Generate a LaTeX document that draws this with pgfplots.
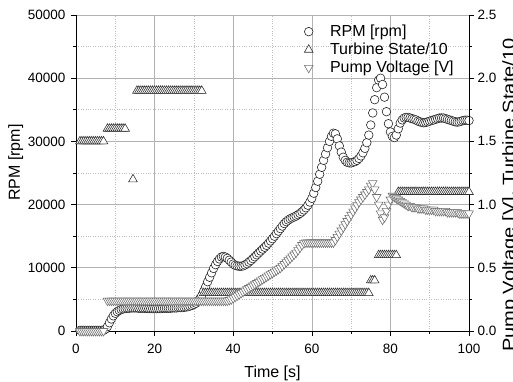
\documentclass[border=0pt]{standalone}
\usepackage{fontspec}
\setmainfont{Liberation Sans}
\usepackage{pgfplots}
\pgfplotsset{compat=1.18}
\begin{document}
\begin{tikzpicture}
\pgfplotsset{
  common/.style={
    at={(0,0)}, anchor=south west, scale only axis,
    width=393pt, height=316pt,
    xmin=0, xmax=100,
    tick align=outside,
    major tick length=5pt, minor tick length=3pt,
    tick style={black, line width=0.6pt},
    axis line style={black, line width=0.8pt},
    /pgf/number format/assume math mode=true,
    ticklabel style={font=\fontsize{13.5}{15}\selectfont},
    label style={font=\fontsize{16}{18}\selectfont},
  },
}
\begin{axis}[common,
  ymin=0, ymax=50000,
  axis x line*=bottom, axis y line*=left,
  xtick={0,20,40,60,80,100},
  ytick={0,10000,20000,30000,40000,50000},
  minor x tick num=1, minor y tick num=1,
  grid=both,
  major grid style={black!30, line width=0.6pt},
  minor grid style={black!25, dotted, line width=0.6pt},
  scaled y ticks=false,
  yticklabel style={/pgf/number format/1000 sep={}, xshift=-2pt},
  xticklabel style={yshift=-5pt},
  xlabel={Time [s]}, ylabel={RPM [rpm]},
  xlabel style={at={(axis description cs:0.5,0)}, anchor=north, inner sep=0pt, yshift=-35pt},
  ylabel style={at={(axis description cs:-0.173,0.533)}, anchor=north, inner sep=0pt},
]
\addplot[only marks, mark=*, mark size=4.3pt, line width=0.6pt,
  mark options={draw=black!85, fill=white}] coordinates {
(1,100)(1.5,100)(2,100)(2.5,100)(3,100)(3.5,100)(4,100)(4.5,100)(5,100)(5.5,100)(6,100)(6.5,100)(7,100)
(7.5,300)(8,700)(8.5,1300)(9,1900)(9.5,2400)(10,2800)(10.5,3050)(11,3250)(11.5,3400)(12,3500)(12.5,3550)
(13,3600)(13.5,3600)(14,3650)(14.5,3650)(15,3650)(15.5,3650)(16,3600)(16.5,3600)(17,3600)(17.5,3600)
(18,3600)(18.5,3550)(19,3550)(19.5,3550)(20,3550)(20.5,3550)(21,3550)(21.5,3550)(22,3600)(22.5,3600)
(23,3600)(23.5,3600)(24,3600)(24.5,3650)(25,3650)(25.5,3650)(26,3700)(26.5,3700)(27,3700)(27.5,3750)
(28,3800)(28.5,3850)(29,3950)(29.5,4050)(30,4200)(30.5,4400)(31,4700)(31.5,5100)(32,5600)(32.5,6300)
(33,7000)(33.5,7800)(34,8500)(34.5,9200)(35,9900)(35.5,10500)(36,11000)(36.5,11400)(37,11700)(37.5,11800)
(38,11700)(38.5,11500)(39,11200)(39.5,10900)(40,10600)(40.5,10400)(41,10300)(41.5,10250)(42,10250)(42.5,10300)
(43,10450)(43.5,10650)(44,10900)(44.5,11150)(45,11450)(45.5,11750)(46,12050)(46.5,12350)(47,12650)(47.5,12950)
(48,13250)(48.5,13550)(49,13900)(49.5,14250)(50,14600)(50.5,15000)(51,15400)(51.5,15800)(52,16200)(52.5,16600)
(53,17000)(53.5,17300)(54,17550)(54.5,17750)(55,17900)(55.5,18050)(56,18200)(56.5,18400)(57,18600)(57.5,18850)
(58,19150)(58.5,19500)(59,19900)(59.5,20400)(60,21000)(60.5,21800)(61,22700)(61.5,23700)(62,24800)(62.5,25900)
(63,27000)(63.5,28000)(64,29000)(64.5,30000)(65,30800)(65.5,31300)(66,31200)(66.5,30400)(67,29300)(67.5,28300)
(68,27500)(68.5,27000)(69,26700)(69.5,26600)(70,26600)(70.5,26700)(71,26800)(71.5,27000)(72,27300)(72.5,27700)
(73,28200)(73.5,28900)(74,29800)(74.5,31000)(75,32600)(75.5,34500)(76,36600)(76.5,38500)(77,39700)(77.5,40000)
(78,39000)(78.5,37000)(79,34700)(79.5,32800)(80,31500)(80.5,30800)(81,30600)(81.5,31000)(82,32000)(82.5,32900)
(83,33400)(83.5,33700)(84,33800)(84.5,33800)(85,33700)(85.5,33600)(86,33500)(86.5,33400)(87,33200)(87.5,33100)
(88,33000)(88.5,32950)(89,33000)(89.5,33100)(90,33200)(90.5,33300)(91,33400)(91.5,33500)(92,33600)(92.5,33700)
(93,33700)(93.5,33700)(94,33600)(94.5,33500)(95,33400)(95.5,33300)(96,33200)(96.5,33100)(97,33050)(97.5,33100)
(98,33200)(98.5,33300)(99,33350)(99.5,33350)(100,33300)
};
\end{axis}
\begin{axis}[common,
  ymin=0, ymax=2.5,
  axis x line=none, axis y line*=right,
  ytick={0,0.5,1,1.5,2,2.5},
  minor y tick num=1,
  yticklabel style={/pgf/number format/.cd, fixed, fixed zerofill, precision=1},
  ylabel={\scalebox{1.18}[1]{\fontsize{17}{19}\selectfont Pump Voltage [V], Turbine State/10}},
  ylabel style={at={(axis description cs:1.084,0.43)}, anchor=north, inner sep=0pt},
  legend style={at={(axis description cs:0.568,0.975)}, anchor=north west, draw=none, fill=none,
    font=\fontsize{16}{18}\selectfont, inner sep=0pt, row sep=1pt},
  legend cell align=left,
  legend image code/.code={\path (0pt,0pt) (28pt,0pt); \draw[#1] plot coordinates {(9pt,0pt)};},
]
\addlegendimage{only marks, mark=*, mark size=4.3pt, line width=0.6pt, mark options={draw=black!85, fill=white}}
\addlegendentry{RPM [rpm]}
\addplot[only marks, mark=triangle*, mark size=5pt, line width=0.6pt,
  mark options={draw=black!80, fill=white}] coordinates {
(1,1.5)(1.5,1.5)(2,1.5)(2.5,1.5)(3,1.5)(3.5,1.5)(4,1.5)(4.5,1.5)(5,1.5)(5.5,1.5)(6,1.5)(6.5,1.5)(7,1.5)
(8,1.6)(8.5,1.6)(9,1.6)(9.5,1.6)(10,1.6)(10.5,1.6)(11,1.6)(11.5,1.6)(12,1.6)(12.5,1.6)
(14.5,1.2)
(15.5,1.9)(16,1.9)(16.5,1.9)(17,1.9)(17.5,1.9)(18,1.9)(18.5,1.9)(19,1.9)(19.5,1.9)(20,1.9)(20.5,1.9)
(21,1.9)(21.5,1.9)(22,1.9)(22.5,1.9)(23,1.9)(23.5,1.9)(24,1.9)(24.5,1.9)(25,1.9)(25.5,1.9)(26,1.9)
(26.5,1.9)(27,1.9)(27.5,1.9)(28,1.9)(28.5,1.9)(29,1.9)(29.5,1.9)(30,1.9)(30.5,1.9)(31,1.9)(31.5,1.9)(32,1.9)
(32.5,0.3)(33,0.3)(33.5,0.3)(34,0.3)(34.5,0.3)(35,0.3)(35.5,0.3)(36,0.3)(36.5,0.3)(37,0.3)(37.5,0.3)
(38,0.3)(38.5,0.3)(39,0.3)(39.5,0.3)(40,0.3)(40.5,0.3)(41,0.3)(41.5,0.3)(42,0.3)(42.5,0.3)(43,0.3)
(43.5,0.3)(44,0.3)(44.5,0.3)(45,0.3)(45.5,0.3)(46,0.3)(46.5,0.3)(47,0.3)(47.5,0.3)(48,0.3)(48.5,0.3)
(49,0.3)(49.5,0.3)(50,0.3)(50.5,0.3)(51,0.3)(51.5,0.3)(52,0.3)(52.5,0.3)(53,0.3)(53.5,0.3)(54,0.3)
(54.5,0.3)(55,0.3)(55.5,0.3)(56,0.3)(56.5,0.3)(57,0.3)(57.5,0.3)(58,0.3)(58.5,0.3)(59,0.3)(59.5,0.3)
(60,0.3)(60.5,0.3)(61,0.3)(61.5,0.3)(62,0.3)(62.5,0.3)(63,0.3)(63.5,0.3)(64,0.3)(64.5,0.3)(65,0.3)
(65.5,0.3)(66,0.3)(66.5,0.3)(67,0.3)(67.5,0.3)(68,0.3)(68.5,0.3)(69,0.3)(69.5,0.3)(70,0.3)(70.5,0.3)
(71,0.3)(71.5,0.3)(72,0.3)(72.5,0.3)(73,0.3)(73.5,0.3)(74,0.3)(74.5,0.3)
(75,0.4)(75.5,0.4)(76,0.4)
(77,0.6)(77.5,0.6)(78,0.6)(78.5,0.6)(79,0.6)(79.5,0.6)(80,0.6)(80.5,0.6)(81,0.6)(81.5,0.6)
(82,1.1)(82.5,1.1)(83,1.1)(83.5,1.1)(84,1.1)(84.5,1.1)(85,1.1)(85.5,1.1)(86,1.1)(86.5,1.1)(87,1.1)
(87.5,1.1)(88,1.1)(88.5,1.1)(89,1.1)(89.5,1.1)(90,1.1)(90.5,1.1)(91,1.1)(91.5,1.1)(92,1.1)(92.5,1.1)
(93,1.1)(93.5,1.1)(94,1.1)(94.5,1.1)(95,1.1)(95.5,1.1)(96,1.1)(96.5,1.1)(97,1.1)(97.5,1.1)(98,1.1)
(98.5,1.1)(99,1.1)(99.5,1.1)(100,1.1)
};
\addlegendentry{Turbine State/10}
\addplot[only marks, mark=triangle*, mark size=5pt, line width=0.6pt,
  mark options={draw=black!55, fill=white, rotate=180}] coordinates {
(1,0)(1.5,0)(2,0)(2.5,0)(3,0)(3.5,0)(4,0)(4.5,0)(5,0)(5.5,0)(6,0)(6.5,0)(7,0)
(8,0.24)(8.5,0.24)(9,0.24)(9.5,0.24)(10,0.24)(10.5,0.24)(11,0.24)(11.5,0.24)(12,0.24)(12.5,0.24)
(13,0.24)(13.5,0.24)(14,0.24)(14.5,0.24)(15,0.24)(15.5,0.24)(16,0.24)(16.5,0.24)(17,0.24)(17.5,0.24)
(18,0.24)(18.5,0.24)(19,0.24)(19.5,0.24)(20,0.24)(20.5,0.24)(21,0.24)(21.5,0.24)(22,0.24)(22.5,0.24)
(23,0.24)(23.5,0.24)(24,0.24)(24.5,0.24)(25,0.24)(25.5,0.24)(26,0.24)(26.5,0.24)(27,0.24)(27.5,0.24)
(28,0.24)(28.5,0.24)(29,0.24)(29.5,0.24)(30,0.24)(30.5,0.24)(31,0.24)(31.5,0.24)(32,0.24)(32.5,0.24)
(33,0.24)(33.5,0.24)(34,0.24)(34.5,0.24)(35,0.24)(35.5,0.24)(36,0.24)(36.5,0.24)(37,0.24)(37.5,0.24)
(38,0.24)(38.5,0.24)
(39,0.245)(39.5,0.25)(40,0.26)(40.5,0.27)(41,0.28)(41.5,0.29)(42,0.30)(42.5,0.31)(43,0.32)(43.5,0.33)
(44,0.34)(44.5,0.35)(45,0.36)(45.5,0.37)(46,0.38)(46.5,0.39)(47,0.40)(47.5,0.41)(48,0.42)(48.5,0.43)
(49,0.44)(49.5,0.45)(50,0.46)(50.5,0.47)(51,0.48)(51.5,0.49)(52,0.50)(52.5,0.515)(53,0.53)(53.5,0.545)
(54,0.56)(54.5,0.575)(55,0.59)(55.5,0.605)(56,0.62)(56.5,0.64)(57,0.66)(57.5,0.68)(58,0.695)(58.5,0.70)
(59,0.70)(59.5,0.70)(60,0.70)(60.5,0.70)(61,0.70)(61.5,0.70)(62,0.70)(62.5,0.70)(63,0.70)(63.5,0.70)
(64,0.70)(64.5,0.70)(65,0.70)(65.5,0.70)
(66,0.72)(66.5,0.745)(67,0.77)(67.5,0.795)(68,0.82)(68.5,0.845)(69,0.87)(69.5,0.895)(70,0.92)(70.5,0.945)
(71,0.97)(71.5,0.995)(72,1.02)(72.5,1.04)(73,1.06)(73.5,1.08)(74,1.10)(74.5,1.12)(75,1.15)(75.5,1.17)
(76,1.12)(76.5,1.06)(77,1.00)(77.5,0.93)(78,0.88)(78.5,0.90)(79,0.95)(79.5,1.00)(80,1.04)(80.5,1.07)
(81,1.06)(81.5,1.05)(82,1.04)(82.5,1.03)(83,1.02)(83.5,1.01)(84,1.00)(84.5,0.99)(85,0.99)(85.5,0.98)
(86,0.98)(86.5,0.98)(87,0.97)(87.5,0.97)(88,0.97)(88.5,0.97)(89,0.96)(89.5,0.96)(90,0.96)(90.5,0.96)
(91,0.96)(91.5,0.95)(92,0.95)(92.5,0.95)(93,0.95)(93.5,0.95)(94,0.95)(94.5,0.94)(95,0.94)(95.5,0.94)
(96,0.94)(96.5,0.94)(97,0.94)(97.5,0.93)(98,0.93)(98.5,0.93)(99,0.93)(99.5,0.93)(100,0.93)
};
\addlegendentry{Pump Voltage [V]}
\end{axis}
\pgfresetboundingbox
\path[use as bounding box] (-76pt,-51pt) rectangle (437pt,331pt);
\end{tikzpicture}
\end{document}
